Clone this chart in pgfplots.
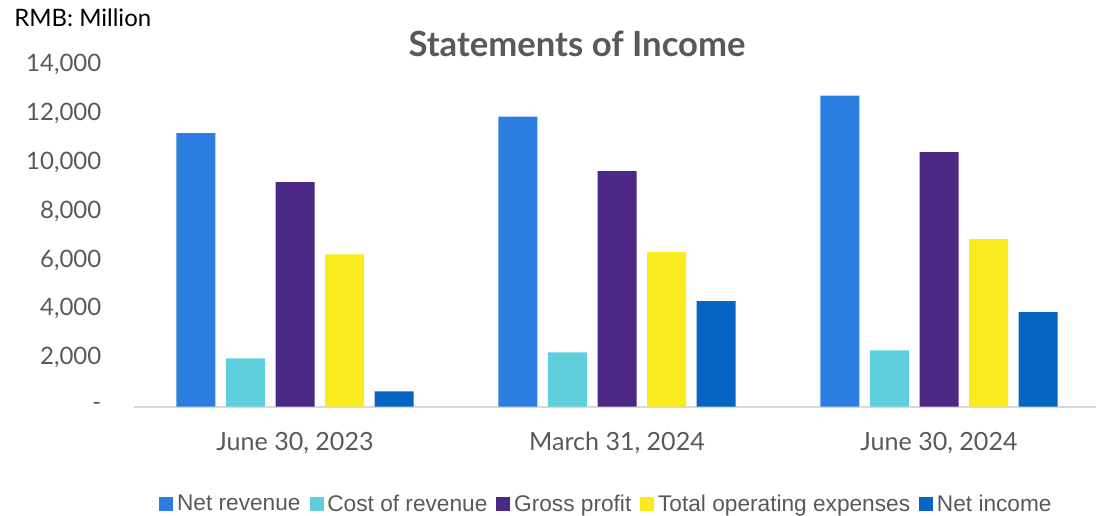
\documentclass[border=0pt]{standalone}
\usepackage{pgfplots}
\pgfplotsset{compat=1.18}
\usepackage{fontspec}
\setmainfont{Lato}
\newfontfamily\legendfont{Liberation Sans}
\definecolor{cNR}{RGB}{44,127,224}
\definecolor{cCR}{RGB}{95,207,222}
\definecolor{cGP}{RGB}{75,40,132}
\definecolor{cOE}{RGB}{250,235,30}
\definecolor{cNI}{RGB}{6,100,194}
\definecolor{txtgray}{RGB}{89,89,89}
\definecolor{axgray}{RGB}{217,217,217}
\begin{document}
\begin{tikzpicture}[x=1pt,y=1pt]
\path[use as bounding box] (0,0) rectangle (822,387);
\begin{axis}[
  at={(100.5pt,82.1pt)}, anchor=south west,
  scale only axis, width=724.5pt, height=256.5pt,
  xmin=-0.5, xmax=2.5, ymin=0, ymax=14000,
  scaled y ticks=false,
  ybar=7.95pt, bar width=29.25pt,
  axis x line*=bottom, axis y line*=left,
  x axis line style={draw=axgray, line width=1.5pt},
  y axis line style={draw=none},
  xtick={0,1,2}, xticklabels={{June 30, 2023},{March 31, 2024},{June 30, 2024}},
  major tick length=0pt,
  xticklabel style={font=\fontsize{18.8}{20}\selectfont, text=txtgray, anchor=center, yshift=-27.4pt},
  ytick={0,2000,4000,6000,8000,10000,12000,14000},
  yticklabels={-,{2,000},{4,000},{6,000},{8,000},{10,000},{12,000},{14,000}},
  yticklabel style={font=\fontsize{18}{20}\selectfont, text=txtgray, anchor=east, xshift=-21pt},
  clip=false,
  legend columns=5,
  legend style={at={(0.49,-0.285)}, anchor=center, draw=none, fill=none,
    font=\legendfont\fontsize{17}{19}\selectfont, text=txtgray,
    nodes={inner sep=2.8pt},
    /tikz/every even column/.append style={column sep=4pt},
    inner sep=0pt},
  legend image code/.code={\fill[#1] (0pt,-5.6pt) rectangle (10.5pt,4.9pt);},
]
\addplot[fill=cNR, draw=none] coordinates {(0,11195) (1,11863) (2,12722)};
\addplot[fill=cCR, draw=none] coordinates {(0,1973) (1,2219) (2,2300)};
\addplot[fill=cGP, draw=none] coordinates {(0,9190) (1,9640) (2,10418)};
\addplot[fill=cOE, draw=none] coordinates {(0,6230) (1,6324) (2,6856)};
\addplot[fill=cNI, draw=none] coordinates {(0,622) (1,4318) (2,3868)};
\legend{Net revenue, Cost of revenue, Gross profit, Total operating expenses, Net income}
\end{axis}
\node[anchor=center, font=\bfseries\fontsize{26}{29}\selectfont, text=txtgray] at (432.75,354) {Statements of Income};
\node[anchor=west, font=\fontsize{18}{20}\selectfont, inner sep=0pt] at (10.5,373.5) {RMB: Million};
\end{tikzpicture}
\end{document}
